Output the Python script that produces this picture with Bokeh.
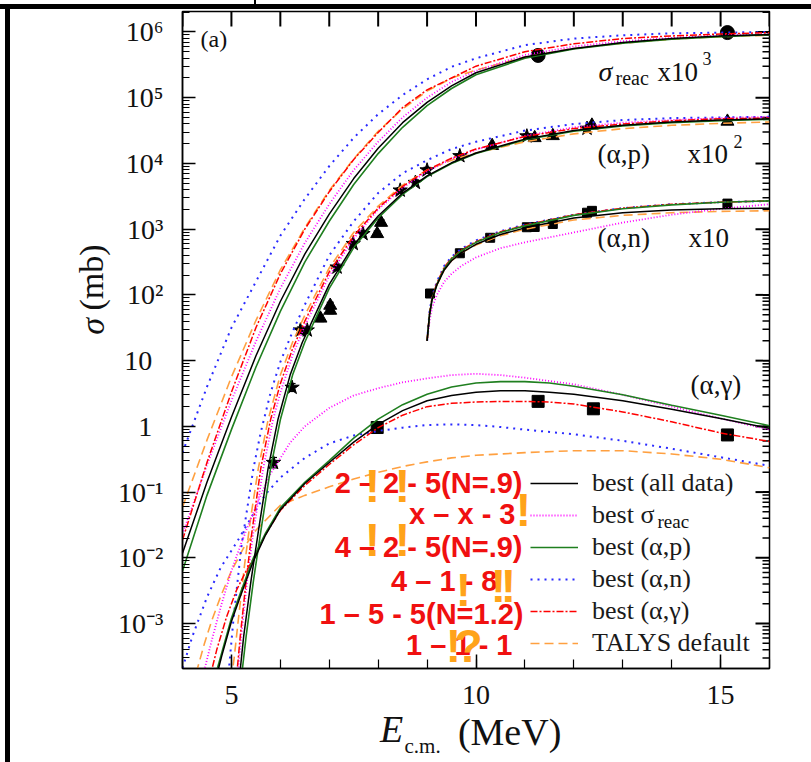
import json
import numpy as np
from bokeh.plotting import figure
from bokeh.layouts import column, row
from bokeh.models import (Range1d, FixedTicker, LinearAxis, LogAxis, CustomJSTickFormatter, Div, Spacer,
                          Label, Legend, LegendItem, Whisker, ColumnDataSource, TeeHead)
from bokeh.embed import file_html
from bokeh.resources import INLINE

# ------------------------------------------------------------------ data
# model curves, values given as log10(sigma [mb]) of the plotted (scaled) quantity
# sigma_reac x 10^3
reac_x = [4.0, 4.5, 5.0, 5.5, 6.0, 6.5, 7.0, 7.5, 8.0, 8.5, 9.0, 9.5, 10.0, 11.0, 12.0, 13.0, 14.0, 15.0, 16.0]
reac_black = [-1.93, -0.85, 0.14, 1.07, 1.9, 2.62, 3.23, 3.77, 4.23, 4.62, 4.93, 5.18, 5.38, 5.62, 5.75, 5.84, 5.9, 5.94, 5.96]
reac_magenta = [-1.64, -0.59, 0.39, 1.29, 2.1, 2.79, 3.38, 3.9, 4.33, 4.7, 5.0, 5.24, 5.41, 5.65, 5.78, 5.86, 5.91, 5.95, 5.97]
reac_green = [-2.2, -1.05, -0.05, 0.9, 1.75, 2.5, 3.12, 3.68, 4.15, 4.55, 4.88, 5.14, 5.35, 5.6, 5.74, 5.83, 5.89, 5.93, 5.96]
reac_blue = [-0.4, 0.6, 1.5, 2.2, 2.9, 3.46, 3.96, 4.39, 4.75, 5.04, 5.28, 5.47, 5.6, 5.8, 5.9, 5.95, 5.98, 5.99, 6.0]
reac_red = [-1.73, -0.55, 0.52, 1.5, 2.32, 3.0, 3.57, 4.06, 4.47, 4.85, 5.12, 5.3, 5.48, 5.7, 5.82, 5.9, 5.94, 5.97, 5.99]
reac_orange = [-1.23, -0.21, 0.75, 1.61, 2.38, 3.02, 3.59, 4.07, 4.49, 4.83, 5.1, 5.3, 5.42, 5.62, 5.75, 5.83, 5.89, 5.93, 5.95]

# (alpha,p) x 10^2
ap_black_x = [5.16, 5.25, 5.4, 5.55, 5.75, 5.95, 6.2, 6.45, 7.0, 7.5, 8.0, 8.5, 9.0, 9.5, 10.0, 11.0, 12.0, 13.0, 14.0, 15.0, 16.0]
ap_black = [-3.85, -3.2, -2.35, -1.6, -0.64, 0.1, 0.78, 1.28, 2.16, 2.76, 3.2, 3.55, 3.81, 4.01, 4.16, 4.37, 4.5, 4.58, 4.63, 4.66, 4.68]
ap_magenta_x = [5.12, 5.2, 5.32, 5.45, 5.65, 5.85, 6.0, 6.25, 6.5, 7.0, 7.5, 8.0, 8.5, 9.0, 9.5, 10.0, 11.0, 12.0, 13.0, 14.0, 15.0, 16.0]
ap_magenta = [-3.85, -3.2, -2.35, -1.6, -0.64, 0.1, 0.51, 1.08, 1.53, 2.29, 2.86, 3.3, 3.63, 3.88, 4.07, 4.21, 4.42, 4.55, 4.62, 4.66, 4.69, 4.71]
ap_green_x = [5.2, 5.3, 5.45, 5.6, 5.8, 6.0, 6.25, 6.5, 7.0, 7.5, 8.0, 8.5, 9.0, 9.5, 10.0, 11.0, 12.0, 13.0, 14.0, 15.0, 16.0]
ap_green = [-3.85, -3.2, -2.35, -1.6, -0.64, 0.1, 0.78, 1.28, 2.1, 2.72, 3.17, 3.53, 3.8, 4.0, 4.15, 4.36, 4.49, 4.57, 4.62, 4.65, 4.67]
ap_blue_x = [4.93, 5.04, 5.2, 5.3, 5.45, 5.6, 5.8, 6.0, 6.25, 6.5, 7.0, 7.5, 8.0, 8.5, 9.0, 9.5, 10.0, 11.0, 12.0, 13.0, 14.0, 15.0, 16.0]
ap_blue = [-3.85, -2.95, -1.85, -1.36, -0.64, -0.09, 0.51, 0.98, 1.44, 1.85, 2.6, 3.12, 3.55, 3.85, 4.05, 4.22, 4.33, 4.5, 4.6, 4.66, 4.69, 4.7, 4.71]
ap_red_x = [5.1, 5.18, 5.3, 5.42, 5.6, 5.8, 6.0, 6.25, 6.5, 7.0, 7.5, 8.0, 8.5, 9.0, 9.5, 10.0, 11.0, 12.0, 13.0, 14.0, 15.0, 16.0]
ap_red = [-3.85, -3.2, -2.35, -1.6, -0.64, 0.1, 0.65, 1.18, 1.6, 2.35, 2.9, 3.32, 3.65, 3.9, 4.08, 4.22, 4.41, 4.53, 4.6, 4.65, 4.68, 4.69]
ap_orange_x = [5.0, 5.06, 5.14, 5.27, 5.4, 5.55, 5.75, 6.0, 6.25, 6.5, 7.0, 7.5, 8.0, 8.5, 9.0, 9.5, 10.0, 11.0, 12.0, 13.0, 14.0, 15.0, 16.0]
ap_orange = [-3.85, -3.5, -2.95, -2.1, -1.36, -0.64, 0.1, 0.78, 1.28, 1.69, 2.41, 2.95, 3.35, 3.67, 3.9, 4.05, 4.16, 4.33, 4.45, 4.53, 4.58, 4.61, 4.63]

# (alpha,n) x 10
an_x = [9.0, 9.05, 9.1, 9.2, 9.35, 9.5, 9.7, 10.0, 10.5, 11.0, 12.0, 13.0, 14.0, 15.0, 16.0]
an_black = [1.3, 1.7, 1.92, 2.15, 2.38, 2.52, 2.64, 2.77, 2.92, 3.02, 3.17, 3.25, 3.29, 3.31, 3.32]
an_magenta = [1.3, 1.6, 1.8, 2.0, 2.2, 2.32, 2.44, 2.57, 2.71, 2.8, 2.95, 3.1, 3.22, 3.31, 3.38]
an_green = [1.3, 1.7, 1.93, 2.16, 2.4, 2.55, 2.67, 2.8, 2.95, 3.05, 3.21, 3.31, 3.37, 3.41, 3.43]
an_blue = [1.3, 1.74, 1.97, 2.2, 2.44, 2.58, 2.7, 2.83, 2.97, 3.07, 3.22, 3.32, 3.38, 3.41, 3.43]
an_red = [1.3, 1.72, 1.95, 2.18, 2.42, 2.56, 2.68, 2.81, 2.96, 3.06, 3.22, 3.32, 3.38, 3.41, 3.43]
an_orange = [1.3, 1.7, 1.92, 2.15, 2.38, 2.52, 2.64, 2.76, 2.9, 3.0, 3.14, 3.21, 3.25, 3.27, 3.28]

# (alpha,gamma)
ag_black_x = [4.68, 4.8, 5.0, 5.2, 5.45, 5.7, 6.0, 6.5, 7.0, 7.5, 8.0, 8.5, 9.0, 9.5, 10.0, 10.5, 11.0, 11.5, 12.0, 13.0, 14.0, 15.0, 16.0]
ag_black = [-3.85, -3.5, -2.97, -2.55, -2.05, -1.65, -1.27, -0.87, -0.55, -0.24, 0.03, 0.24, 0.39, 0.47, 0.52, 0.54, 0.54, 0.52, 0.49, 0.39, 0.26, 0.12, -0.03]
ag_red_x = [4.55, 4.7, 4.9, 5.1, 5.3, 5.45, 5.7, 6.0, 6.5, 7.0, 7.5, 8.0, 8.5, 9.0, 9.5, 10.0, 10.5, 11.0, 11.5, 12.0, 13.0, 14.0, 15.0, 16.0]
ag_red = [-3.85, -3.4, -2.9, -2.5, -2.2, -2.02, -1.64, -1.28, -0.9, -0.58, -0.28, -0.02, 0.17, 0.3, 0.35, 0.37, 0.38, 0.38, 0.37, 0.34, 0.22, 0.07, -0.1, -0.23]
ag_green_x = [4.65, 4.8, 5.0, 5.2, 5.45, 5.7, 6.0, 6.5, 7.0, 7.5, 8.0, 8.5, 9.0, 9.5, 10.0, 10.5, 11.0, 11.5, 12.0, 13.0, 14.0, 15.0, 16.0]
ag_green = [-3.85, -3.45, -2.92, -2.5, -2.0, -1.62, -1.24, -0.85, -0.52, -0.18, 0.11, 0.33, 0.49, 0.6, 0.66, 0.68, 0.68, 0.66, 0.61, 0.48, 0.32, 0.17, 0.01]
ag_magenta_x = [4.4, 4.6, 4.8, 5.0, 5.2, 5.4, 5.6, 5.8, 6.2, 6.5, 7.0, 7.5, 8.0, 8.5, 9.0, 9.5, 10.0, 10.5, 11.0, 12.0, 13.0, 14.0, 15.0, 16.0]
ag_magenta = [-3.85, -3.25, -2.7, -2.2, -1.78, -1.4, -1.05, -0.72, -0.25, 0.0, 0.28, 0.47, 0.58, 0.67, 0.73, 0.78, 0.8, 0.78, 0.74, 0.64, 0.48, 0.3, 0.12, -0.05]
ag_blue_x = [4.0, 4.2, 4.5, 4.78, 5.12, 5.45, 5.7, 6.0, 6.5, 7.0, 7.5, 8.0, 8.5, 9.0, 9.5, 10.0, 10.5, 11.0, 12.0, 13.0, 14.0, 15.0, 16.0]
ag_blue = [-3.68, -3.2, -2.6, -2.15, -1.75, -1.33, -1.03, -0.78, -0.48, -0.26, -0.14, -0.07, -0.02, 0.02, 0.03, 0.02, -0.01, -0.05, -0.12, -0.22, -0.34, -0.47, -0.6]
ag_orange_x = [4.28, 4.45, 4.6, 4.8, 5.0, 5.25, 5.5, 6.0, 6.5, 7.0, 7.5, 8.0, 8.5, 9.0, 9.5, 10.0, 10.5, 11.0, 12.0, 13.0, 14.0, 15.0, 16.0]
ag_orange = [-3.75, -3.3, -2.95, -2.55, -2.2, -1.85, -1.58, -1.2, -1.05, -0.92, -0.8, -0.7, -0.61, -0.54, -0.48, -0.44, -0.42, -0.4, -0.37, -0.37, -0.42, -0.5, -0.63]

# experimental points (plotted, scaled values in mb) and relative errors
reac_data_x = [11.27, 15.14]
reac_data_y = [4.4e5, 9.8e5]
reac_data_err = [0.07, 0.05]
ap_star_x = [5.86, 6.24, 6.41, 6.55, 7.16, 7.49, 7.69, 8.45, 8.76, 9.0, 9.67, 11.04, 12.27]
ap_star_y = [0.28, 3.9, 29, 29, 263, 600, 850, 3900, 5100, 7900, 13000, 26000, 34000]
ap_star_err = [0.2, 0.15, 0.12, 0.12, 0.12, 0.1, 0.1, 0.1, 0.1, 0.1, 0.08, 0.08, 0.08]
ap_tri_x = [6.82, 7.02, 7.02, 7.98, 8.06, 10.33, 11.2, 11.57, 12.37, 15.14]
ap_tri_y = [44, 69, 58, 850, 1260, 18600, 24500, 26300, 38000, 43600]
ap_tri_err = [0.12, 0.12, 0.12, 0.1, 0.1, 0.08, 0.08, 0.08, 0.08, 0.08]
an_data_x = [9.06, 9.67, 10.29, 11.04, 11.2, 11.57, 12.27, 12.37, 15.14]
an_data_y = [105, 430, 740, 1070, 1080, 1200, 1780, 1900, 2450]
an_data_err = [0.12, 0.1, 0.08, 0.08, 0.08, 0.08, 0.08, 0.08, 0.08]
ag_data_x = [7.98, 11.27, 12.4, 15.14]
ag_data_y = [0.96, 2.4, 1.85, 0.74]
ag_data_err = [0.22, 0.08, 0.08, 0.15]

# ticks
x_major = [5, 10, 15]
x_minor = list(range(4, 17))
y_major = [1e-3, 1e-2, 1e-1, 1, 10, 1e2, 1e3, 1e4, 1e5, 1e6]
y_minor = [m * 10.0 ** k for k in range(-4, 7) for m in range(2, 10) if 2.07e-4 <= m * 10.0 ** k <= 2.05e6]

legend_labels = ["best (all data)", "best \u03c3", "best (\u03b1,p)", "best (\u03b1,n)", "best (\u03b1,\u03b3)", "TALYS default"]
annot_texts = ["2 \u2013 2 - 5(N=.9)", "x \u2013 x - 3", "4 \u2013 2 - 5(N=.9)", "4 \u2013 1 - 8", "1 \u2013 5 - 5(N=1.2)", "1 \u2013 1 - 1"]

# ------------------------------------------------------------------ figure
PAGE_X0, PAGE_Y0 = 10, 9            # figure canvas origin on the page
W, H = 811 - PAGE_X0, 762 - PAGE_Y0
FL, FT, FW, FH = 182 - PAGE_X0, 11 - PAGE_Y0, 587, 657
FRAME_LEFT_PAGE, FRAME_BOTTOM_PAGE = 182, 668
X_LO, X_HI, Y_LO, Y_HI = 4, 16, 2.07e-4, 2.05e6
PX_PER_MEV = FW / (X_HI - X_LO)
PX_PER_DEC = FH / (np.log10(Y_HI) - np.log10(Y_LO))
p = figure(width=W, height=H, output_backend="svg", toolbar_location=None,
           x_range=Range1d(X_LO, X_HI), y_range=Range1d(Y_LO, Y_HI), y_axis_type="log",
           min_border_left=FL, min_border_top=FT, min_border_right=W - FL - FW,
           min_border_bottom=H - FT - FH, margin=0)
p.xgrid.visible = False
p.ygrid.visible = False
p.background_fill_color = "white"
p.border_fill_color = "white"
p.outline_line_color = "black"
p.outline_line_width = 1.5

SERIF = "Liberation Serif"
SANS = "Liberation Sans"
INK = "#111111"

xa = p.xaxis[0]
xa.ticker = FixedTicker(ticks=x_major, minor_ticks=x_minor)
xa.major_tick_in, xa.major_tick_out = 14, 0
xa.minor_tick_in, xa.minor_tick_out = 9, 0
xa.major_label_text_font = SERIF
xa.major_label_text_font_size = "28px"
xa.major_label_text_color = INK
xa.major_label_standoff = 17
ya = p.yaxis[0]
ya.ticker = FixedTicker(ticks=y_major, minor_ticks=y_minor)
ya.major_tick_in, ya.major_tick_out = 13, 0
ya.minor_tick_in, ya.minor_tick_out = 7, 0
ya.major_label_text_font = SERIF
ya.major_label_text_font_size = "28px"
ya.major_label_text_color = INK
ya.major_label_standoff = 19
ya.formatter = CustomJSTickFormatter(code="""
const e = Math.round(Math.log10(tick));
if (e === 0) return "1\u2009\u2009";
if (e === 1) return "10\u2009\u2009";
const s = {"-":"\u207b","0":"\u2070","1":"\u00b9","2":"\u00b2","3":"\u00b3","4":"\u2074","5":"\u2075","6":"\u2076","7":"\u2077","8":"\u2078","9":"\u2079"};
return "10" + String(e).split("").map(c => s[c]).join("");
""")
for ax in (xa, ya):
    ax.axis_line_width = 1.5
    ax.major_tick_line_width = 1.5
    ax.minor_tick_line_width = 1.2

# mirrored ticks on the top and right frame edges, drawn inwards from the edges
top_len = 10 ** (15 / PX_PER_DEC)
p.multi_line(xs=[[x, x] for x in x_minor], ys=[[Y_HI, Y_HI / top_len] for _ in x_minor],
             line_color="#000000", line_width=2)
p.multi_line(xs=[[X_HI, X_HI - 14 / PX_PER_MEV] for _ in y_major], ys=[[y, y] for y in y_major],
             line_color="#000000", line_width=2)
p.multi_line(xs=[[X_HI, X_HI - 7 / PX_PER_MEV] for _ in y_minor], ys=[[y, y] for y in y_minor],
             line_color="#000000", line_width=1.5)


# axis titles as single-label axes (real text placed by the axis machinery)
def title_axis(side, tick, text, size, style, standoff, orient=None):
    ax = LinearAxis() if side == "below" else LogAxis()
    ax.ticker = FixedTicker(ticks=[tick], minor_ticks=[])
    ax.formatter = CustomJSTickFormatter(code="return " + json.dumps(text) + ";")
    ax.major_label_text_font = SERIF
    ax.major_label_text_font_size = f"{size}px"
    ax.major_label_text_font_style = style
    ax.major_label_text_color = INK
    ax.major_label_standoff = standoff
    ax.major_tick_in = ax.major_tick_out = ax.minor_tick_in = ax.minor_tick_out = 0
    ax.axis_line_color = None
    ax.major_tick_line_color = None
    ax.minor_tick_line_color = None
    if orient is not None:
        ax.major_label_orientation = orient
    p.add_layout(ax, side)


def page_x(px):
    return 4 + (px - 182) / 48.9


def page_y(py):
    return 10 ** (6 - (py - 31.5) / 65.73)


title_axis("below", page_x(391), "E", 38, "italic", 1)
title_axis("below", page_x(509), "(MeV)", 38, "normal", -42)
title_axis("below", page_x(422), "c.m.", 21, "normal", -22)
title_axis("left", page_y(326), "\u03c3", 34, "italic", 4, "vertical")
title_axis("left", page_y(277), "(mb)", 34, "normal", -39, "vertical")

# ------------------------------------------------------------------ data points


def errbars(xs, ys, fr):
    src = ColumnDataSource(dict(x=xs, lo=[y / (1 + f) for y, f in zip(ys, fr)], hi=[y * (1 + f) for y, f in zip(ys, fr)]))
    p.add_layout(Whisker(source=src, base="x", lower="lo", upper="hi", dimension="height",
                         line_color="black", line_width=1.2,
                         upper_head=TeeHead(size=7, line_color="black", line_width=1.2),
                         lower_head=TeeHead(size=7, line_color="black", line_width=1.2)))


errbars(reac_data_x, reac_data_y, reac_data_err)
errbars(ap_star_x, ap_star_y, ap_star_err)
errbars(ap_tri_x, ap_tri_y, ap_tri_err)
errbars(an_data_x, an_data_y, an_data_err)
errbars(ag_data_x, ag_data_y, ag_data_err)
p.scatter(reac_data_x, reac_data_y, marker="circle", size=14, color="black")
p.scatter(ap_star_x, ap_star_y, marker="star", size=15, color="black")
p.scatter(ap_tri_x, ap_tri_y, marker="triangle", size=13, color="black")
p.scatter(an_data_x, an_data_y, marker="square", size=9, color="black")
p.scatter(ag_data_x, ag_data_y, marker="square", size=12, color="black")

# ------------------------------------------------------------------ model curves
styles = {
    "black": dict(line_color="#000000", line_width=1.5, line_dash="solid"),
    "magenta": dict(line_color="#ff00ff", line_width=1.8, line_dash="1 2"),
    "green": dict(line_color="#1f7f1f", line_width=1.6, line_dash="solid"),
    "blue": dict(line_color="#2a2aff", line_width=2.0, line_dash="2 5"),
    "red": dict(line_color="#ff0000", line_width=1.5, line_dash="7 2 2 2"),
    "orange": dict(line_color="#ffa040", line_width=1.6, line_dash="9 5"),
}
families = {
    "black": [(reac_x, reac_black), (ap_black_x, ap_black), (an_x, an_black), (ag_black_x, ag_black)],
    "magenta": [(reac_x, reac_magenta), (ap_magenta_x, ap_magenta), (an_x, an_magenta), (ag_magenta_x, ag_magenta)],
    "green": [(reac_x, reac_green), (ap_green_x, ap_green), (an_x, an_green), (ag_green_x, ag_green)],
    "blue": [(reac_x, reac_blue), (ap_blue_x, ap_blue), (an_x, an_blue), (ag_blue_x, ag_blue)],
    "red": [(reac_x, reac_red), (ap_red_x, ap_red), (an_x, an_red), (ag_red_x, ag_red)],
    "orange": [(reac_x, reac_orange), (ap_orange_x, ap_orange), (an_x, an_orange), (ag_orange_x, ag_orange)],
}
rep = {}
for name in ["orange", "blue", "magenta", "red", "green", "black"]:
    for xs, ls in families[name]:
        r = p.line(xs, np.power(10.0, np.array(ls)), **styles[name])
        rep[name] = r

# ------------------------------------------------------------------ legend
order = ["black", "magenta", "green", "blue", "red", "orange"]
legend = Legend(items=[LegendItem(label=l, renderers=[rep[n]]) for l, n in zip(legend_labels, order)],
                location=(348, 9), glyph_width=48, glyph_height=32, label_height=32, spacing=0,
                padding=0, margin=0, label_standoff=14, border_line_color=None, background_fill_alpha=0,
                label_text_font=SERIF, label_text_font_size="26px", label_text_color="#1a1a1a")
p.add_layout(legend)


# ------------------------------------------------------------------ texts inside the frame (page coords)
def lab(px, py, text, size, font=SERIF, style="normal", color=INK, align="left", baseline="middle", angle=0.0):
    p.add_layout(Label(x=px - FRAME_LEFT_PAGE, y=FRAME_BOTTOM_PAGE - py, x_units="screen", y_units="screen",
                       text=text, text_font=font, text_font_size=f"{size}px", text_font_style=style,
                       text_color=color, text_align=align, text_baseline=baseline, angle=angle))


lab(657, 521, "reac", 19)
lab(200, 38, "(a)", 24)
lab(598, 71, "\u03c3", 28, style="italic")
lab(615, 77, "reac", 20)
lab(657, 71, "x10", 27)
lab(702, 58, "3", 18)
lab(597, 153, "(\u03b1,p)", 27)
lab(687, 153, "x10", 27)
lab(733, 141, "2", 18)
lab(597, 237, "(\u03b1,n)", 27)
lab(688, 237, "x10", 27)
lab(690, 384, "(\u03b1,\u03b3)", 27)

# red annotations with orange marks
annot_right = [522, 515, 522, 497, 523, 512]
annot_y = [482, 513, 546, 580, 613, 644]
for t, rx, yy in zip(annot_texts, annot_right, annot_y):
    lab(rx, yy, t, 29, font=SANS, style="bold", color="#f01010", align="right")
marks = [("!", 372, 485), ("!", 402, 485), ("!", 523, 509), ("!", 372, 539), ("!", 402, 539),
         ("!", 463, 589), ("!", 498, 585), ("!", 508, 585), ("!", 453, 645), ("?", 468, 645)]
for t, mx, my in marks:
    lab(mx, my, t, 46, font=SANS, style="bold", color="#ffa31a", align="center")

# ------------------------------------------------------------------ page layout with the outer frame strokes
top_gap = row(Spacer(width=254, height=4, margin=0),
              Div(width=2, height=4, margin=0, styles={"background-color": "black"}),
              Spacer(width=555, height=4, margin=0), spacing=0, margin=0)
top_bar = Div(width=811, height=5, margin=0, styles={"background-color": "black"})
left_gap = Spacer(width=5, height=H, margin=0)
left_bar = Div(width=5, height=H, margin=0, styles={"background-color": "black"})
page = column(top_gap, top_bar, row(left_gap, left_bar, p, spacing=0, margin=0), spacing=0, margin=0)

open("out.html", "w").write(file_html(page, INLINE))
